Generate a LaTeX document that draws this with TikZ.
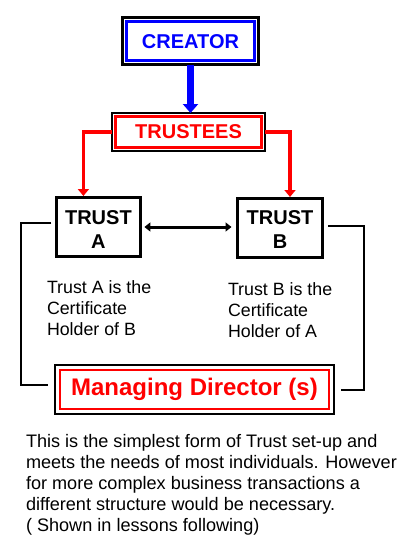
\documentclass[tikz,border=0pt]{standalone}
\usepackage{fontspec}
\setmainfont{Liberation Sans}
\usetikzlibrary{arrows.meta}
\tikzset{
  boxframe/.style={draw=black, inner sep=0pt, outer sep=0pt, align=center,
    font=\bfseries\fontsize{20}{24}\selectfont},
  bodytext/.style={inner sep=0pt, outer sep=0pt, anchor=north west, align=left,
    font=\fontsize{17.8}{21}\selectfont},
  redconn/.style={draw=red, line width=3.5pt, -{Triangle[width=11pt,length=7pt]}},
  blackconn/.style={draw=black, line width=2pt},
}
\begin{document}
\begin{tikzpicture}[x=1pt,y=-1pt]
\useasboundingbox (0,0) rectangle (403,549);
\fill[white] (0,0) rectangle (403,549);

% boxes
\node[boxframe, line width=3pt, minimum width=136pt, minimum height=46.7pt, text=blue] (creator) at (190.5,41.3) {CREATOR};
\draw[blue, line width=3pt] ([xshift=4pt,yshift=-4pt]creator.north west) rectangle ([xshift=-4pt,yshift=4pt]creator.south east);

\node[boxframe, line width=2pt, minimum width=153pt, minimum height=38pt, text=red] (trustees) at (188.5,132) {TRUSTEES};
\draw[red, line width=3pt] ([xshift=3.5pt,yshift=-3.5pt]trustees.north west) rectangle ([xshift=-3.5pt,yshift=3.5pt]trustees.south east);

\node[boxframe, line width=3pt, minimum width=84pt, minimum height=59pt] (trustA) at (98.4,227) {\rule{0pt}{18pt}TRUST\\A};
\node[boxframe, line width=3pt, minimum width=85pt, minimum height=59pt] (trustB) at (280,227.5) {\rule{0pt}{18pt}TRUST\\B};

\node[boxframe, line width=2pt, minimum width=279pt, minimum height=49pt, text=red,
  font=\bfseries\fontsize{24}{28}\selectfont] (md) at (194.5,389.5) {Managing Director (s)};
\draw[red, line width=2pt] ([xshift=5pt,yshift=-5pt]md.north west) rectangle ([xshift=-5pt,yshift=5pt]md.south east);

% connectors
\draw[blue, line width=7pt, -{Triangle[width=15pt,length=9pt]}] (creator.south) -- (creator.south |- trustees.north);
\draw[redconn] (trustees.west) -| ([xshift=-15pt,yshift=1.5pt]trustA.north);
\draw[redconn] (trustees.east) -| ([xshift=10pt,yshift=1pt]trustB.north);
\draw[black, line width=3pt, {Triangle[width=9pt,length=6pt]}-{Triangle[width=9pt,length=6pt]}, shorten <=4pt, shorten >=6pt] (trustA.east) -- (trustA.east -| trustB.west);
\draw[blackconn] ([xshift=-5pt,yshift=4pt]trustA.west) -- ++(-30,0) |- ([xshift=-7pt,yshift=4.5pt]md.west);
\draw[blackconn] ([xshift=5.5pt,yshift=1.5pt]trustB.east) -- ++(36,0) |- ([xshift=7pt]md.east);

% texts
\node[bodytext] (noteA) at (47,280.5) {Trust A is the\\Certificate\\Holder of B};
\node[bodytext] (noteB) at (228,283) {Trust B is the\\Certificate\\Holder of A};
\node[bodytext, font=\fontsize{18.1}{21}\selectfont] (para) at (26,434.5) {This is the simplest form of Trust set-up and\\meets the needs of most individuals. However\\for more complex business transactions a\\different structure would be necessary.\\( Shown in lessons following)};
\end{tikzpicture}
\end{document}
